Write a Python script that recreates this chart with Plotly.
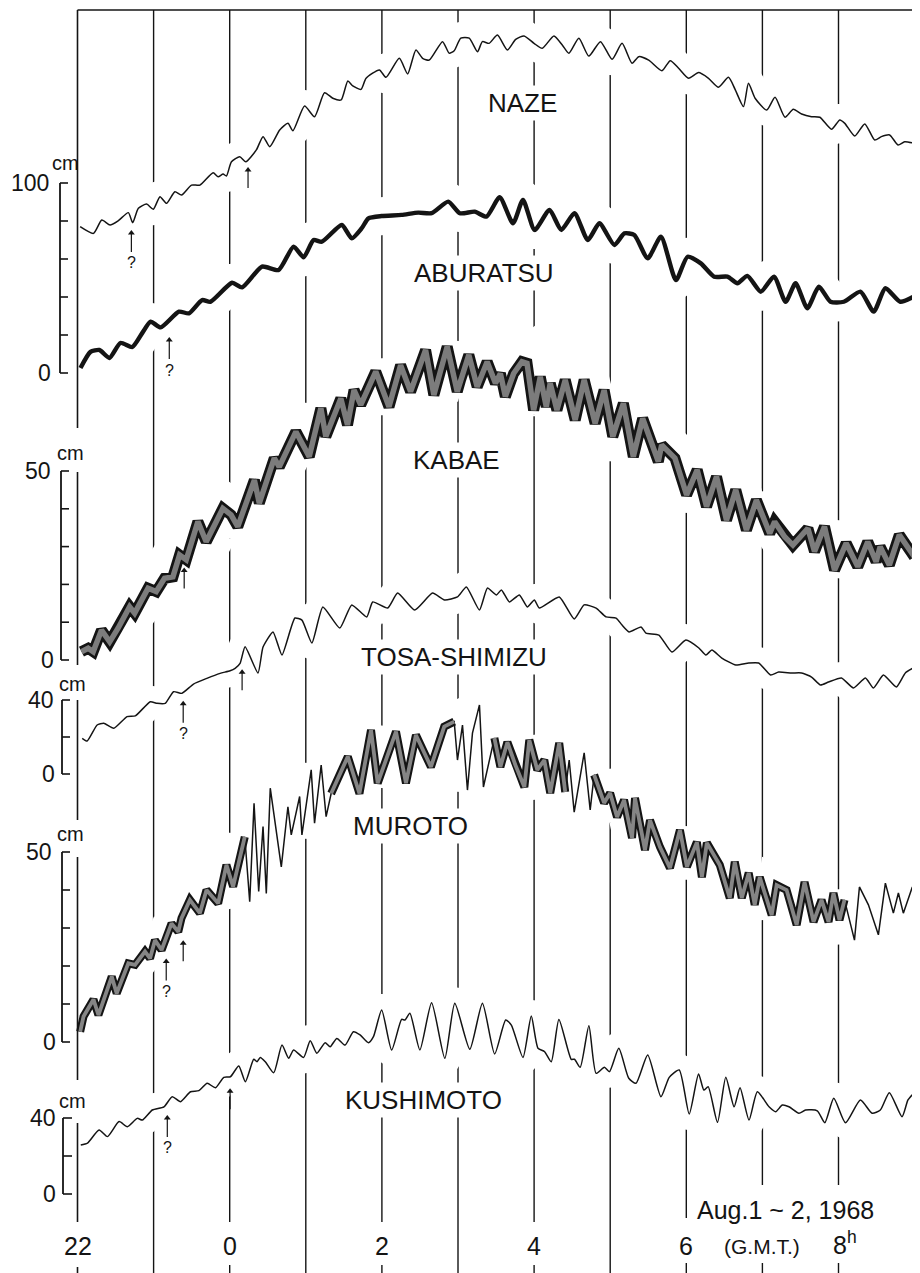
import plotly.graph_objects as go

# ---------------- data: time in hours (GMT, 24 = 0h Aug 2), water level in cm on each scale ----------------
NAZE_T = [22.035, 22.210, 22.319, 22.428, 22.537, 22.668, 22.725, 22.800, 22.908, 22.996, 23.084, 23.170,
          23.280, 23.367, 23.498, 23.608, 23.782, 23.848, 23.913, 23.957, 24.023, 24.132, 24.211, 24.350,
          24.438, 24.526, 24.657, 24.765, 24.831, 24.984, 25.115, 25.246, 25.355, 25.464, 25.552, 25.617,
          25.726, 25.792, 25.967, 26.054, 26.229, 26.338, 26.447, 26.535, 26.622, 26.797, 26.884, 26.950,
          27.037, 27.147, 27.256, 27.321, 27.409, 27.518, 27.649, 27.758, 27.868, 27.999, 28.107, 28.261,
          28.370, 28.457, 28.588, 28.719, 28.872, 29.025, 29.156, 29.287, 29.375, 29.506, 29.680, 29.789,
          29.899, 30.030, 30.161, 30.292, 30.423, 30.554, 30.641, 30.751, 30.817, 30.904, 31.057, 31.166,
          31.297, 31.406, 31.515, 31.646, 31.755, 31.908, 32.017, 32.083, 32.214, 32.345, 32.476, 32.563,
          32.672, 32.782, 32.869, 32.992]
NAZE_CM = [77.0, 73.5, 80.5, 77.9, 80.2, 84.4, 79.1, 86.7, 88.9, 86.2, 92.8, 89.3,
           95.4, 93.7, 98.9, 98.9, 105.4, 103.3, 104.7, 103.7, 111.2, 113.8, 111.2, 117.4,
           124.4, 119.1, 127.9, 131.4, 127.5, 140.5, 134.9, 147.5, 144.6, 143.7, 153.7, 151.1,
           149.3, 155.1, 159.5, 155.6, 165.6, 157.4, 170.0, 165.6, 164.7, 174.4, 168.3, 169.6,
           176.2, 176.2, 169.1, 174.4, 173.5, 177.9, 170.0, 175.6, 177.4, 173.5, 170.9, 177.4,
           172.6, 168.3, 176.2, 166.8, 174.4, 165.1, 173.5, 163.0, 166.5, 164.7, 159.1, 164.4,
           160.4, 155.1, 158.1, 155.1, 150.4, 155.6, 149.3, 140.2, 152.5, 144.6, 138.4, 145.1,
           134.6, 138.8, 136.3, 134.9, 134.6, 128.3, 133.2, 131.4, 124.7, 131.1, 122.6, 124.4,
           125.3, 120.0, 121.7, 120.9]

ABURATSU_T = [22.039, 22.170, 22.288, 22.419, 22.564, 22.721, 22.852, 22.961, 23.092, 23.333, 23.464, 23.638,
              23.747, 24.031, 24.163, 24.425, 24.643, 24.840, 24.971, 25.102, 25.211, 25.473, 25.604, 25.735,
              25.823, 25.997, 26.259, 26.478, 26.653, 26.871, 27.024, 27.220, 27.374, 27.548, 27.723, 27.854,
              28.007, 28.203, 28.357, 28.531, 28.706, 28.858, 29.055, 29.186, 29.317, 29.493, 29.667, 29.864,
              30.017, 30.191, 30.366, 30.541, 30.672, 30.803, 30.978, 31.152, 31.305, 31.436, 31.590, 31.742,
              31.895, 32.070, 32.288, 32.463, 32.616, 32.812, 32.987]
ABURATSU_CM = [2.6, 11.1, 12.1, 7.9, 15.8, 13.7, 21.1, 27.0, 24.0, 32.3, 31.4, 38.4,
               37.5, 47.5, 45.1, 56.0, 54.2, 66.5, 60.9, 70.0, 69.1, 77.9, 70.9, 76.2,
               81.4, 82.6, 83.2, 84.4, 84.1, 90.2, 84.1, 84.9, 82.3, 92.5, 78.8, 91.1,
               75.3, 85.8, 75.3, 84.1, 70.0, 78.8, 67.4, 73.5, 72.6, 60.4, 71.7, 48.9,
               61.2, 57.7, 50.7, 50.7, 47.2, 51.1, 42.8, 50.7, 37.5, 47.2, 34.1, 45.4,
               37.5, 37.5, 42.8, 32.3, 44.6, 37.5, 40.2]

KABAE_T = [22.052, 22.140, 22.206, 22.315, 22.423, 22.533, 22.685, 22.751, 22.927, 23.035, 23.144, 23.254,
           23.341, 23.429, 23.582, 23.691, 23.910, 24.018, 24.106, 24.324, 24.389, 24.586, 24.651, 24.870,
           25.045, 25.198, 25.263, 25.460, 25.548, 25.634, 25.722, 25.919, 26.093, 26.246, 26.377, 26.574,
           26.683, 26.858, 26.990, 27.033, 27.142, 27.252, 27.383, 27.492, 27.557, 27.622, 27.731, 27.841,
           27.907, 27.994, 28.081, 28.160, 28.212, 28.300, 28.409, 28.540, 28.658, 28.802, 28.920, 29.034,
           29.173, 29.304, 29.427, 29.632, 29.676, 29.851, 30.004, 30.143, 30.266, 30.397, 30.528, 30.650,
           30.790, 30.921, 31.096, 31.161, 31.292, 31.401, 31.598, 31.685, 31.816, 31.948, 32.101, 32.253,
           32.384, 32.494, 32.547, 32.668, 32.799, 32.996]
KABAE_CM = [2.2, 3.1, 2.2, 7.9, 4.8, 8.4, 14.1, 12.4, 19.0, 18.1, 21.6, 22.0,
            27.8, 26.5, 36.6, 31.3, 40.1, 38.4, 35.3, 47.6, 41.5, 53.4, 51.1, 60.4,
            53.8, 66.6, 59.1, 69.2, 62.2, 71.4, 67.5, 76.3, 67.0, 78.0, 71.0, 82.0,
            70.1, 82.9, 71.0, 74.1, 80.7, 72.3, 78.9, 73.2, 75.8, 69.7, 75.8, 78.9,
            78.5, 66.1, 74.9, 67.0, 73.2, 66.1, 74.1, 63.5, 74.1, 62.6, 71.4, 59.1,
            67.9, 53.8, 63.9, 52.5, 56.9, 53.4, 43.7, 50.3, 40.6, 48.5, 37.0, 45.0,
            34.4, 42.3, 33.5, 36.6, 32.6, 30.4, 34.8, 28.7, 35.3, 23.8, 30.9, 24.7,
            31.3, 26.0, 30.0, 25.1, 33.1, 27.3]

TOSA_T = [22.062, 22.127, 22.258, 22.345, 22.476, 22.651, 22.760, 22.957, 23.045, 23.153, 23.262, 23.372,
          23.524, 23.700, 23.874, 24.005, 24.071, 24.136, 24.202, 24.372, 24.438, 24.569, 24.687, 24.857,
          24.949, 25.080, 25.224, 25.447, 25.604, 25.801, 25.879, 26.076, 26.207, 26.430, 26.666, 26.823,
          26.993, 27.110, 27.282, 27.387, 27.505, 27.570, 27.675, 27.806, 27.911, 28.003, 28.068, 28.330,
          28.527, 28.658, 28.815, 28.946, 29.077, 29.156, 29.248, 29.405, 29.470, 29.640, 29.811, 29.994,
          30.165, 30.257, 30.336, 30.467, 30.650, 30.820, 30.951, 31.108, 31.213, 31.384, 31.515, 31.646,
          31.764, 31.869, 32.039, 32.197, 32.354, 32.459, 32.590, 32.760, 32.878, 32.983]
TOSA_CM = [19.3, 17.8, 26.5, 27.4, 24.7, 31.0, 31.4, 39.1, 38.2, 38.2, 44.5, 43.6,
           48.6, 51.7, 54.4, 55.8, 57.1, 59.8, 68.8, 54.6, 68.6, 76.8, 64.3, 84.3,
           83.2, 70.8, 90.3, 78.9, 91.4, 84.9, 93.0, 89.7, 97.8, 88.6, 97.8, 94.1,
           95.7, 101.1, 88.6, 100.5, 96.8, 99.5, 93.0, 96.8, 90.3, 94.1, 89.7, 95.7,
           83.8, 91.4, 89.7, 84.9, 84.3, 80.5, 76.8, 79.5, 76.2, 75.1, 65.9, 72.4,
           68.1, 64.3, 67.0, 62.7, 58.9, 60.0, 60.0, 53.5, 55.1, 54.6, 54.6, 52.4,
           48.1, 49.7, 51.9, 46.5, 51.9, 46.5, 53.5, 47.0, 54.6, 57.3]

MUROTO_T = [22.035, 22.079, 22.210, 22.275, 22.450, 22.515, 22.668, 22.756, 22.887, 22.953, 23.018, 23.105,
            23.236, 23.324, 23.367, 23.477, 23.608, 23.695, 23.848, 23.957, 24.045, 24.198, 24.263, 24.320,
            24.381, 24.438, 24.481, 24.533, 24.678, 24.765, 24.809, 24.919, 24.949, 25.071, 25.115, 25.202,
            25.267, 25.333, 25.552, 25.705, 25.857, 25.945, 26.185, 26.316, 26.447, 26.644, 26.819, 26.950,
            26.993, 27.059, 27.124, 27.190, 27.282, 27.334, 27.478, 27.557, 27.649, 27.754, 27.872, 27.937,
            28.042, 28.134, 28.212, 28.330, 28.409, 28.461, 28.527, 28.658, 28.737, 28.789, 28.920, 28.999,
            29.090, 29.182, 29.287, 29.326, 29.457, 29.523, 29.654, 29.785, 29.916, 30.008, 30.139, 30.205,
            30.270, 30.440, 30.571, 30.637, 30.729, 30.820, 30.899, 30.965, 31.122, 31.187, 31.318, 31.450,
            31.554, 31.672, 31.777, 31.869, 31.934, 32.013, 32.079, 32.210, 32.275, 32.393, 32.524, 32.616,
            32.721, 32.787, 32.852, 32.970]
MUROTO_CM = [2.7, 6.7, 11.2, 7.1, 17.2, 12.8, 20.7, 20.3, 23.8, 22.0, 26.8, 24.2,
             31.2, 29.0, 32.6, 37.4, 33.9, 40.0, 36.5, 46.6, 40.9, 54.0, 36.9, 62.8,
             39.6, 56.7, 39.1, 66.8, 46.1, 61.9, 54.5, 64.6, 54.5, 71.6, 57.6, 72.9,
             59.3, 65.4, 75.1, 65.4, 82.1, 68.1, 81.7, 68.1, 80.8, 72.4, 83.0, 84.3,
             74.2, 83.4, 66.3, 81.3, 88.7, 67.1, 80.0, 72.4, 78.9, 72.9, 67.1, 79.5,
             71.6, 74.2, 65.5, 78.7, 65.8, 74.2, 60.5, 76.1, 61.1, 70.3, 62.9, 65.5,
             59.2, 63.7, 53.7, 64.2, 50.5, 58.4, 51.3, 45.8, 55.8, 46.1, 52.6, 43.4,
             52.4, 46.6, 37.9, 47.4, 37.9, 44.5, 36.1, 43.4, 33.4, 41.3, 40.0, 30.8,
             42.1, 31.6, 37.4, 31.6, 39.2, 32.1, 37.4, 26.8, 40.8, 36.1, 28.2, 41.8,
             33.9, 39.2, 33.9, 40.8]
# stretches where the Muroto record is a single thin trace instead of a broad band
MUROTO_THIN = [(24.2, 25.3), (26.97, 27.42), (28.44, 28.78), (32.2, 33.1)]

KUSHIMOTO_T = [22.043, 22.131, 22.284, 22.393, 22.547, 22.655, 22.786, 22.852, 22.983, 23.136, 23.245, 23.354,
               23.485, 23.595, 23.704, 23.813, 23.923, 24.009, 24.119, 24.206, 24.316, 24.359, 24.402, 24.468,
               24.578, 24.687, 24.775, 24.840, 24.971, 25.058, 25.145, 25.254, 25.320, 25.408, 25.516, 25.626,
               25.713, 25.823, 25.889, 25.997, 26.128, 26.259, 26.303, 26.368, 26.499, 26.653, 26.827, 26.958,
               27.155, 27.321, 27.482, 27.627, 27.701, 27.854, 27.963, 28.051, 28.138, 28.225, 28.326, 28.488,
               28.531, 28.606, 28.720, 28.815, 28.924, 28.990, 29.113, 29.244, 29.339, 29.493, 29.667, 29.776,
               29.907, 30.038, 30.161, 30.231, 30.287, 30.410, 30.519, 30.628, 30.706, 30.824, 30.934, 31.087,
               31.174, 31.262, 31.349, 31.480, 31.567, 31.721, 31.820, 31.938, 32.092, 32.288, 32.442, 32.550,
               32.668, 32.835, 32.913, 32.987]
KUSHIMOTO_CM = [25.8, 26.8, 33.7, 30.2, 38.1, 35.4, 39.8, 38.9, 44.2, 45.9, 51.2, 48.6,
                53.8, 54.4, 58.3, 55.9, 61.4, 61.7, 67.4, 59.1, 70.9, 69.6, 71.9, 69.6,
                63.8, 78.4, 71.4, 75.8, 71.9, 80.7, 74.1, 79.6, 77.5, 81.9, 78.4, 85.4,
                83.7, 79.6, 82.8, 96.8, 75.8, 91.9, 91.6, 95.1, 75.8, 100.7, 71.4, 100.4,
                76.2, 100.4, 73.7, 91.6, 88.9, 71.9, 93.7, 76.7, 74.9, 69.6, 91.9, 70.9,
                70.9, 66.7, 88.6, 63.5, 66.7, 64.4, 76.7, 60.9, 58.3, 73.2, 51.2, 61.4,
                65.3, 42.1, 63.2, 54.7, 56.5, 37.7, 61.4, 45.9, 55.9, 38.9, 53.8, 45.9,
                43.3, 46.8, 45.9, 42.5, 44.2, 43.8, 37.5, 50.4, 37.5, 49.5, 42.5, 44.2,
                53.3, 40.7, 49.5, 53.0]

# station label positions (hour, cm on own scale)
STATION_NAMES = ['NAZE', 'ABURATSU', 'KABAE', 'TOSA-SHIMIZU', 'MUROTO', 'KUSHIMOTO']
LABEL_T = [27.845, 27.347, 26.980, 26.941, 26.382, 26.548]
LABEL_CM = [142.1, 52.6, 52.9, 63.2, 56.8, 49.5]

# marker arrows (hour, cm, with question mark?)
ARROW_AXIS = ['y', 'y', 'y', 'y2', 'y3', 'y3', 'y4', 'y4', 'y5', 'y5']
ARROW_T = [22.708, 24.241, 23.206, 23.402, 23.389, 24.163, 23.166, 23.389, 23.180, 24.005]
ARROW_CM = [75.3, 108.4, 18.9, 24.5, 39.6, 56.6, 22.0, 26.8, 41.6, 55.6]
ARROW_Q = [True, False, True, False, True, False, True, False, True, False]

HOUR_TICKS = [22, 24, 26, 28, 30]
HOUR_TEXT = ['22', '0', '2', '4', '6']

# scale bars: axis, top value, tick step
SCALE_AXIS = ['y', 'y2', 'y3', 'y4', 'y5']
SCALE_TOP = [100, 50, 40, 50, 40]
SCALE_STEP = [20, 10, 20, 10, 20]

# ---------------- layout geometry (reference pixels) ----------------
W, H = 920, 1273
OFF = 8                                  # page body margin: figure starts 8 px in
FW, FH = W - OFF, H - OFF
X0, PXH = 77.5, 76.1                     # reference pixel of 22h, pixels per hour
XR = [22 + (OFF - X0) / PXH, 22 + (W - X0) / PXH]
AXES = {'y': (373, 1.9), 'y2': (660, 3.78), 'y3': (774, 1.85), 'y4': (1042, 3.8), 'y5': (1194, 1.9)}
BAR_X = [60, 61, 62, 62, 63]
BAR_TICK = [8, 8, 8, 8, 9]
NUM_RIGHT = [51, 53, 56, 54, 58]
CM_LEFT = [50, 55, 57, 55, 57]
CM_DY = [20, 18, 16, 18, 17]
ZERO_RIGHT = [53, 56, 57, 58, 58]

FONT = 'Liberation Sans, Arial, Helvetica, sans-serif'
INK = '#141414'


def py(p):
    return 1 - (p - OFF) / FH


def pxx(p):
    return (p - OFF) / FW


fig = go.Figure()

stations = [
    dict(t=NAZE_T, v=NAZE_CM, ax='y', shape='spline', halo=32),
    dict(t=ABURATSU_T, v=ABURATSU_CM, ax='y', shape='spline', halo=38),
    dict(t=KABAE_T, v=KABAE_CM, ax='y2', shape='linear', halo=50),
    dict(t=TOSA_T, v=TOSA_CM, ax='y3', shape='spline', halo=32),
    dict(t=MUROTO_T, v=MUROTO_CM, ax='y4', shape='linear', halo=38),
    dict(t=KUSHIMOTO_T, v=KUSHIMOTO_CM, ax='y5', shape='spline', halo=32),
]

# white halos that interrupt the hour lines around each record
for s in stations:
    fig.add_trace(go.Scatter(x=s['t'], y=s['v'], yaxis=s['ax'], mode='lines',
                             line=dict(color='white', width=s['halo'], shape=s['shape'], smoothing=0.6),
                             hoverinfo='skip', showlegend=False))

# NAZE
fig.add_trace(go.Scatter(x=NAZE_T, y=NAZE_CM, yaxis='y', mode='lines',
                         line=dict(color=INK, width=1.5, shape='spline', smoothing=0.6),
                         hoverinfo='skip', showlegend=False))
# ABURATSU (thick trace)
fig.add_trace(go.Scatter(x=ABURATSU_T, y=ABURATSU_CM, yaxis='y', mode='lines',
                         line=dict(color=INK, width=4.4, shape='spline', smoothing=0.6),
                         hoverinfo='skip', showlegend=False))
# KABAE (broad band with grey interior)
fig.add_trace(go.Scatter(x=KABAE_T, y=KABAE_CM, yaxis='y2', mode='lines',
                         line=dict(color=INK, width=11, shape='linear'),
                         hoverinfo='skip', showlegend=False))
fig.add_trace(go.Scatter(x=KABAE_T, y=KABAE_CM, yaxis='y2', mode='lines',
                         line=dict(color='#7c7c7c', width=5.5, shape='linear'),
                         hoverinfo='skip', showlegend=False))
# TOSA-SHIMIZU
fig.add_trace(go.Scatter(x=TOSA_T, y=TOSA_CM, yaxis='y3', mode='lines',
                         line=dict(color=INK, width=1.5, shape='spline', smoothing=0.5),
                         hoverinfo='skip', showlegend=False))
# MUROTO: thin trace everywhere, band where the record is broad
fig.add_trace(go.Scatter(x=MUROTO_T, y=MUROTO_CM, yaxis='y4', mode='lines',
                         line=dict(color=INK, width=1.5, shape='linear'),
                         hoverinfo='skip', showlegend=False))


def in_thin(t):
    return any(a < t < b for a, b in MUROTO_THIN)


band = [None if in_thin(t) else v for t, v in zip(MUROTO_T, MUROTO_CM)]
fig.add_trace(go.Scatter(x=MUROTO_T, y=band, yaxis='y4', mode='lines', connectgaps=False,
                         line=dict(color=INK, width=8, shape='linear'),
                         hoverinfo='skip', showlegend=False))
fig.add_trace(go.Scatter(x=MUROTO_T, y=band, yaxis='y4', mode='lines', connectgaps=False,
                         line=dict(color='#858585', width=3.8, shape='linear'),
                         hoverinfo='skip', showlegend=False))
# KUSHIMOTO
fig.add_trace(go.Scatter(x=KUSHIMOTO_T, y=KUSHIMOTO_CM, yaxis='y5', mode='lines',
                         line=dict(color=INK, width=1.5, shape='spline', smoothing=0.6),
                         hoverinfo='skip', showlegend=False))

shapes = []
annotations = []

# marker arrows: shaft as a pixel-sized shape, head as a small triangle marker
for ax, t, v, q in zip(ARROW_AXIS, ARROW_T, ARROW_CM, ARROW_Q):
    length = 22 if q else 21
    shapes.append(dict(type='line', xref='x', yref=ax, ysizemode='pixel', yanchor=v,
                       x0=t, x1=t, y0=-3, y1=-length, line=dict(color=INK, width=1.2), layer='above'))
    fig.add_trace(go.Scatter(x=[t], y=[v - 3.0 / AXES[ax][1]], yaxis=ax, mode='markers',
                             marker=dict(symbol='triangle-up', size=6, color=INK, line=dict(width=0)),
                             hoverinfo='skip', showlegend=False))
    if q:
        annotations.append(dict(text='?', xref='x', yref=ax, x=t, y=v, yshift=-33, showarrow=False,
                                xanchor='center', yanchor='middle',
                                font=dict(family=FONT, size=16, color=INK)))

# hour lines (below traces so the halos break them)
for h in range(23, 33):
    if h in (24, 26, 28):
        segs = [(10, 1222), (1265, H)]
    elif h == 30:
        segs = [(10, 1218), (1263, H)]
    elif h in (31, 32):
        segs = [(10, 1185), (1263, H)]
    else:
        segs = [(10, H)]
    for a, b in segs:
        shapes.append(dict(type='line', xref='x', yref='paper', x0=h, x1=h, y0=py(a), y1=py(b),
                           line=dict(color=INK, width=1.4), layer='below'))
# left frame (22h) with gaps at scale labels
for a, b in [(10, 428), (472, 665), (700, 820), (857, 1080), (1123, 1222), (1267, H)]:
    shapes.append(dict(type='line', xref='x', yref='paper', x0=22, x1=22, y0=py(a), y1=py(b),
                       line=dict(color=INK, width=1.6), layer='above'))
# top and right frame
shapes.append(dict(type='line', xref='x', yref='paper', x0=22, x1=33, y0=py(10), y1=py(10),
                   line=dict(color=INK, width=1.6), layer='above'))
shapes.append(dict(type='line', xref='x', yref='paper', x0=33, x1=33, y0=py(10), y1=py(H),
                   line=dict(color=INK, width=2), layer='above'))

# scale bars
for i, ax in enumerate(SCALE_AXIS):
    xb = pxx(BAR_X[i])
    xt = pxx(BAR_X[i] + BAR_TICK[i])
    shapes.append(dict(type='line', xref='paper', yref=ax, x0=xb, x1=xb, y0=0, y1=SCALE_TOP[i],
                       line=dict(color=INK, width=1.8), layer='above'))
    v = 0
    while v <= SCALE_TOP[i] + 1e-9:
        shapes.append(dict(type='line', xref='paper', yref=ax, x0=xb, x1=xt, y0=v, y1=v,
                           line=dict(color=INK, width=1.6), layer='above'))
        v += SCALE_STEP[i]
    annotations.append(dict(text=str(SCALE_TOP[i]), xref='paper', yref=ax, x=pxx(NUM_RIGHT[i]),
                            y=SCALE_TOP[i], xanchor='right', yanchor='middle', showarrow=False,
                            font=dict(family=FONT, size=23, color=INK)))
    annotations.append(dict(text='cm', xref='paper', yref=ax, x=pxx(CM_LEFT[i]), y=SCALE_TOP[i],
                            yshift=CM_DY[i], xanchor='left', yanchor='middle', showarrow=False,
                            font=dict(family=FONT, size=20, color=INK)))
    annotations.append(dict(text='0', xref='paper', yref=ax, x=pxx(ZERO_RIGHT[i]), y=0,
                            xanchor='right', yanchor='middle', showarrow=False,
                            font=dict(family=FONT, size=23, color=INK)))

# station names
for name, t, v, s in zip(STATION_NAMES, LABEL_T, LABEL_CM, stations):
    annotations.append(dict(text=name, xref='x', yref=s['ax'], x=t, y=v, showarrow=False,
                            xanchor='center', yanchor='middle', bgcolor='white', borderpad=2,
                            font=dict(family=FONT, size=26, color=INK)))

# hour labels
for h, txt in zip(HOUR_TICKS, HOUR_TEXT):
    annotations.append(dict(text=txt, xref='x', yref='paper', x=h, y=py(1246), showarrow=False,
                            xanchor='center', yanchor='middle',
                            font=dict(family=FONT, size=25, color=INK)))
annotations.append(dict(text='8<sup>h</sup>', xref='x', yref='paper', x=32, xshift=-8, y=py(1243),
                        showarrow=False, xanchor='left', yanchor='middle',
                        font=dict(family=FONT, size=25, color=INK)))
annotations.append(dict(text='(G.M.T.)', xref='x', yref='paper', x=31, y=py(1246), showarrow=False,
                        xanchor='center', yanchor='middle', font=dict(family=FONT, size=21, color=INK)))
annotations.append(dict(text='Aug.1 ~ 2, 1968', xref='x', yref='paper', x=30, xshift=9, y=py(1210),
                        showarrow=False, xanchor='left', yanchor='middle', bgcolor='white',
                        font=dict(family=FONT, size=25, color=INK)))

layout = dict(width=FW, height=FH, autosize=False, margin=dict(l=0, r=0, t=0, b=0),
              paper_bgcolor='white', plot_bgcolor='white', showlegend=False,
              xaxis=dict(range=XR, visible=False, fixedrange=True),
              shapes=shapes, annotations=annotations)
for ax, (p0, s) in AXES.items():
    key = 'yaxis' if ax == 'y' else 'yaxis' + ax[1:]
    cfg = dict(range=[(p0 - H) / s, (p0 - OFF) / s], visible=False, fixedrange=True, domain=[0, 1])
    if ax != 'y':
        cfg['overlaying'] = 'y'
    layout[key] = cfg
fig.update_layout(**layout)

fig.write_html('out.html', config={'displayModeBar': False})
